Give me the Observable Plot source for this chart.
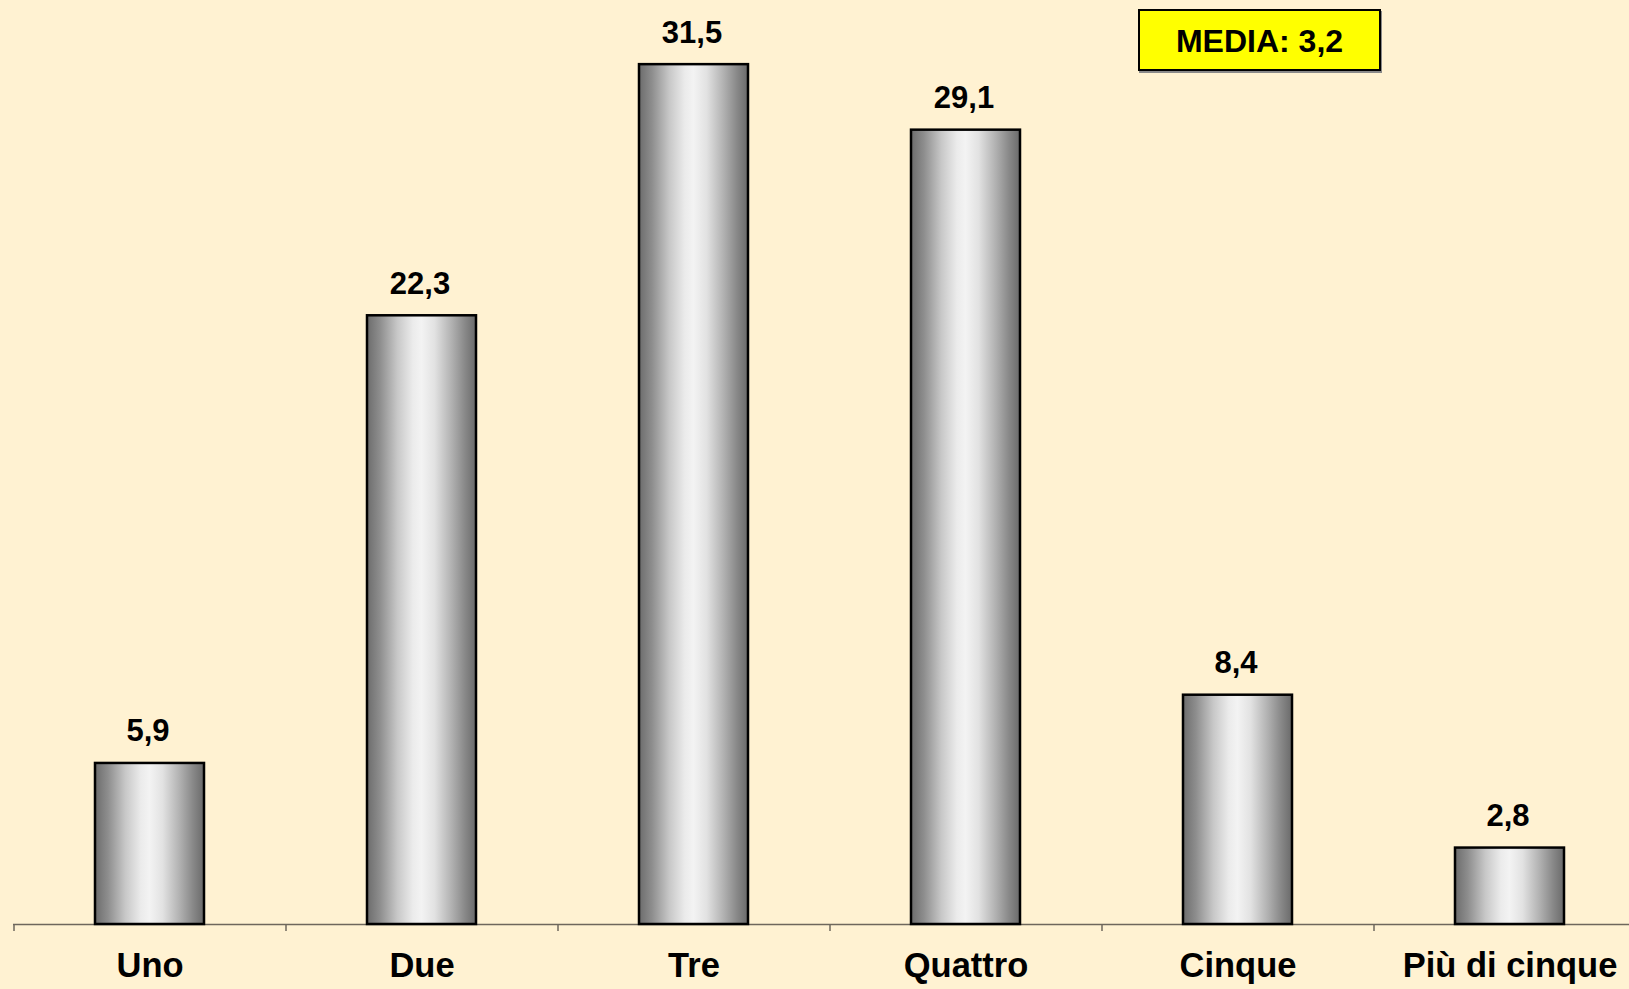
<!DOCTYPE html>
<html>
<head>
<meta charset="utf-8">
<script src="https://cdn.jsdelivr.net/npm/d3@7"></script>
<script src="https://cdn.jsdelivr.net/npm/@observablehq/plot@0.6"></script>
<style>
  html, body { margin: 0; padding: 0; background: #FFF2D2; overflow: hidden; }
  #wrap { position: relative; width: 1629px; height: 989px; overflow: hidden; }
  #wrap svg { max-width: none !important; display: block; }
  #media {
    position: absolute; left: 1138px; top: 9px; width: 239px;
    background: #FFFF00; border: 2px solid #000; box-shadow: 1px 2px 0 #8a8a8a;
    font-family: "Liberation Sans", Arial, sans-serif; font-weight: bold; font-size: 32px;
    display: flex; align-items: center; justify-content: center; color: #000;
    box-sizing: content-box; padding-top: 3px; height: 55px;
  }
</style>
</head>
<body>
<div id="wrap"><div id="media"></div></div>
<script>
const categories = ["Uno", "Due", "Tre", "Quattro", "Cinque", "Più di cinque"];
const values = [5.9, 22.3, 31.5, 29.1, 8.4, 2.8];
const mediaLabel = "MEDIA: 3,2";

const data = categories.map((c, i) => ({
  cat: c,
  value: values[i],
  label: values[i].toFixed(1).replace(".", ",")
}));

const chart = Plot.plot({
  width: 1645,
  height: 989,
  marginLeft: 13,
  marginRight: 0,
  marginTop: 0,
  marginBottom: 65,
  x: { domain: categories, paddingInner: 0.6, paddingOuter: 0.3, align: 0.5, label: null },
  y: { domain: [0, 33.85], axis: null },
  style: {
    background: "transparent",
    fontFamily: "'Liberation Sans', Arial, sans-serif",
    fontSize: "31px",
    fontWeight: "bold",
    color: "#000",
    overflow: "visible",
    maxWidth: "none"
  },
  marks: [
    Plot.ruleY([0], { stroke: "#6e675c", strokeWidth: 1.5 }),
    Plot.ruleX(data, { x: "cat", y1: 0, y2: 0, dx: -136, insetBottom: -7, stroke: "#6e675c", strokeWidth: 1.5 }),
    Plot.barY(data, { x: "cat", y: "value", fill: "url(#barGrad)", stroke: "#000", strokeWidth: 2.5 }),
    Plot.text(data, { x: "cat", y: "value", text: "label", dx: -2, dy: -22, lineAnchor: "bottom", fontSize: 31, fontWeight: "bold", fill: "#000" }),
    Plot.axisX({ tickSize: 0, tickPadding: 28, fontSize: 34.5, fontWeight: "bold", label: null, fill: "#000" })
  ]
});

const defs = d3.select(chart).insert("defs", ":first-child");
const grad = defs.append("linearGradient").attr("id", "barGrad")
  .attr("x1", "0").attr("x2", "1").attr("y1", "0").attr("y2", "0");
[
  [0, "#6c6c6c"], [0.12, "#8e8e8e"], [0.28, "#c8c8c8"], [0.42, "#ebebeb"],
  [0.5, "#f3f3f3"], [0.62, "#e2e2e2"], [0.78, "#b0b0b0"], [0.9, "#888888"], [1, "#6a6a6a"]
].forEach(([o, c]) => grad.append("stop").attr("offset", o).attr("stop-color", c));

document.getElementById("wrap").prepend(chart);
document.getElementById("media").textContent = mediaLabel;
</script>
</body>
</html>
